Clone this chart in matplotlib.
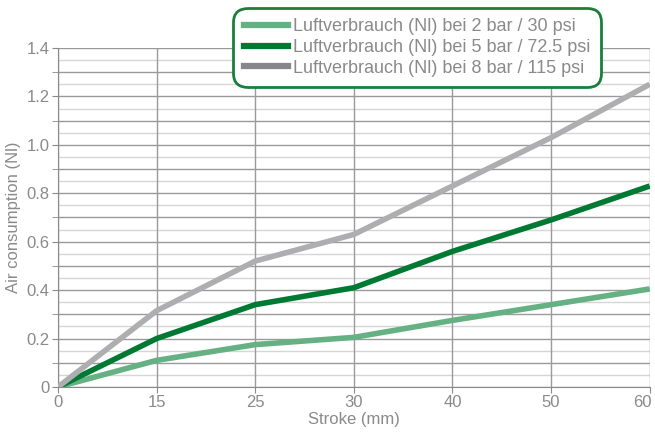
import matplotlib.pyplot as plt
import matplotlib.transforms as mtransforms
from matplotlib.lines import Line2D

# data
stroke = ['0', '15', '25', '30', '40', '50', '60']
air_2bar = [0, 0.11, 0.175, 0.205, 0.275, 0.34, 0.405]
air_5bar = [0, 0.20, 0.34, 0.41, 0.56, 0.69, 0.83]
air_8bar = [0, 0.315, 0.52, 0.63, 0.83, 1.03, 1.25]
y_ticks = [0, 0.2, 0.4, 0.6, 0.8, 1.0, 1.2, 1.4]
y_labels = ['0', '0.2', '0.4', '0.6', '0.8', '1.0', '1.2', '1.4']
labels = ['Luftverbrauch (Nl) bei 2 bar / 30 psi',
          'Luftverbrauch (Nl) bei 5 bar / 72.5 psi',
          'Luftverbrauch (Nl) bei 8 bar / 115 psi']

plt.rcParams['font.family'] = ['Liberation Sans', 'DejaVu Sans']
txt = '#8a8a8a'

fig = plt.figure(figsize=(6.55, 4.36), dpi=100)
ax = fig.add_axes([0.0885, 0.1124, 0.9035, 0.7776])

x = range(len(stroke))
ax.plot(x, air_2bar, color='#66b183', lw=4, solid_capstyle='butt', zorder=3)
ax.plot(x, air_5bar, color='#007a33', lw=4, solid_capstyle='butt', zorder=3)
ax.plot(x, air_8bar, color='#aeaeb0', lw=4, solid_capstyle='butt', zorder=3)

ax.set_xlim(0, len(stroke) - 1)
ax.set_ylim(0, 1.4)
ax.set_xticks(list(x))
ax.set_xticklabels(stroke)
ax.set_yticks(y_ticks)
ax.set_yticklabels(y_labels)
ax.set_yticks([0.1 + 0.2 * i for i in range(7)], minor=True)

# grid: darker every 0.1, lighter every 0.05
for i in range(15):
    ax.axhline(i * 0.1, color='#9a9a9a', lw=1, zorder=1)
for i in range(14):
    ax.axhline(0.05 + i * 0.1, color='#d6d6d6', lw=1, zorder=1)
ax.grid(axis='x', color='#9a9a9a', lw=1, zorder=1)

for s in ['top', 'right']:
    ax.spines[s].set_visible(False)
for s in ['left', 'bottom']:
    ax.spines[s].set_color('#8a8a8a')
ax.tick_params(which='both', colors='#8a8a8a', labelcolor=txt, labelsize=12, length=4)
ax.tick_params(axis='x', pad=2)
ax.tick_params(axis='y', pad=2)

# last x label sits right at the edge, nudge it in a little
last = ax.get_xticklabels()[-1]
last.set_transform(last.get_transform() + mtransforms.ScaledTranslation(-5 / 72, 0, fig.dpi_scale_trans))

ax.set_xlabel('Stroke (mm)', color=txt, fontsize=12, labelpad=1)
ax.set_ylabel('Air consumption (Nl)', color=txt, fontsize=12, labelpad=4)

handles = [Line2D([], [], color='#66b183', lw=4.5),
           Line2D([], [], color='#007a33', lw=4.5),
           Line2D([], [], color='#87878a', lw=4.5)]
leg = fig.legend(handles, labels, loc='upper left', bbox_to_anchor=(0.348, 0.995),
                 fontsize=13, labelcolor=txt, handlelength=2.4, handletextpad=0.3,
                 labelspacing=0.2, borderpad=0.4, fancybox=True, framealpha=1)
leg.get_frame().set_edgecolor('#1a7f3a')
leg.get_frame().set_linewidth(2)
leg.get_frame().set_boxstyle('round,pad=0.2,rounding_size=0.8')

fig.savefig('out.png', dpi=100)
